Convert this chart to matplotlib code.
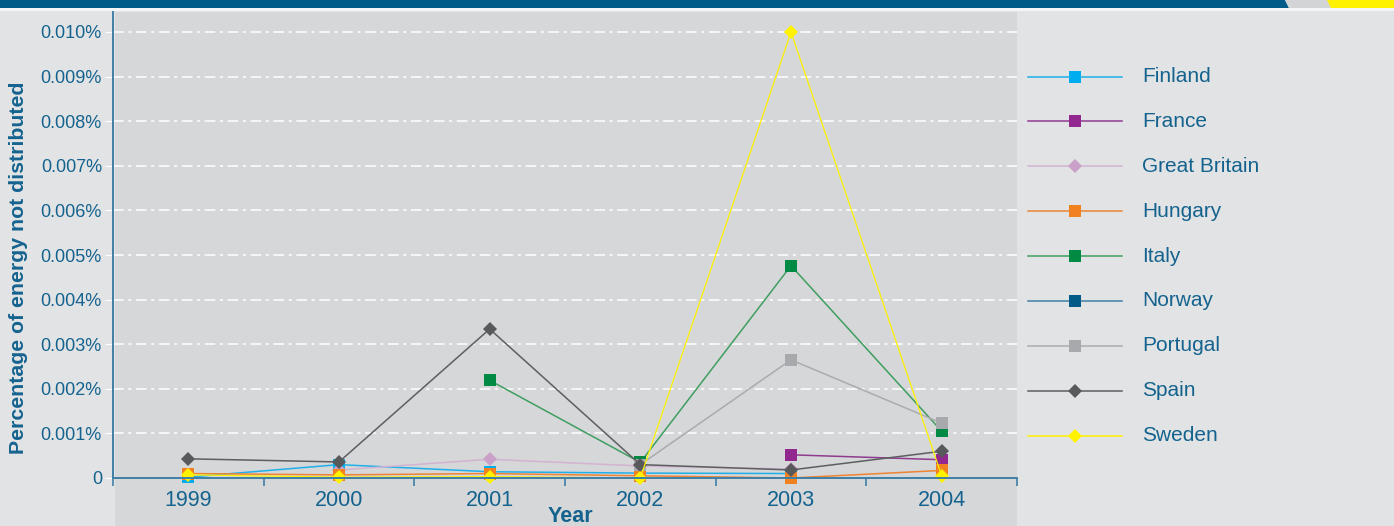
import matplotlib
matplotlib.use("Agg")
import matplotlib.pyplot as plt
from matplotlib.lines import Line2D
from matplotlib.patches import Rectangle, Polygon
import numpy as np

years = ["1999", "2000", "2001", "2002", "2003", "2004"]
countries = ["Finland", "France", "Great Britain", "Hungary", "Italy",
             "Norway", "Portugal", "Spain", "Sweden"]

# Percentage of energy not distributed (values in %)
finland = [0.00002, 0.00030, 0.00014, 0.00011, 0.00010, None]
france = [None, None, None, None, 0.00052, 0.00041]
great_britain = [None, 0.00018, 0.00042, 0.00027, 0.00020, None]
hungary = [0.00010, 0.00007, 0.00010, 0.00005, 0.00000, 0.00017]
italy = [None, None, 0.00219, 0.00035, 0.00476, 0.00105]
norway = [None, None, None, None, None, None]
portugal = [None, None, None, 0.00030, 0.00265, 0.00123]
spain = [0.00043, 0.00036, 0.00334, 0.00030, 0.00018, 0.00060]
sweden = [0.00007, 0.00002, 0.00003, 0.00000, 0.01000, 0.00005]

series = [finland, france, great_britain, hungary, italy,
          norway, portugal, spain, sweden]

line_colors = ["#1fb0ea", "#8f3b8f", "#d3b3d2", "#ee8434", "#3e9f60",
               "#3f7fa6", "#a9abae", "#5d5e60", "#fff200"]
marker_colors = ["#00aeef", "#92278f", "#c9a0c8", "#f1821f", "#008a44",
                 "#005a87", "#a7a9ac", "#58595b", "#fff200"]
markers = ["s", "s", "D", "s", "s", "s", "s", "D", "D"]

TEXT = "#14638e"
AXIS = "#3f7fa6"

W, H = 1394, 526
fig = plt.figure(figsize=(W / 100, H / 100), dpi=100)
fig.patch.set_facecolor("#e2e3e5")
plt.rcParams["font.family"] = ["Liberation Sans", "DejaVu Sans"]


def fx(px):
    return px / W


def fy(py):
    return 1 - py / H


# header band
fig.add_artist(Polygon([(0, fy(0)), (fx(1285), fy(0)), (fx(1289), fy(8)), (0, fy(8))],
                       closed=True, transform=fig.transFigure, color="#005b88", lw=0))
fig.add_artist(Polygon([(fx(1285), fy(0)), (fx(1327), fy(0)), (fx(1331), fy(8)), (fx(1289), fy(8))],
                       closed=True, transform=fig.transFigure, color="#d3d4d6", lw=0))
fig.add_artist(Polygon([(fx(1327), fy(0)), (1, fy(0)), (1, fy(8)), (fx(1331), fy(8))],
                       closed=True, transform=fig.transFigure, color="#fff200", lw=0))
fig.add_artist(Rectangle((0, fy(11)), 1, fy(8) - fy(11), transform=fig.transFigure,
                         color="#f4f5f6", lw=0))

# plot panel background
fig.add_artist(Rectangle((fx(115), 0), fx(1017) - fx(115), fy(12), transform=fig.transFigure,
                         color="#d6d7d9", lw=0, zorder=0))

unit = 0.001 / 44.6  # % per pixel
ax = fig.add_axes([fx(113), fy(478), fx(1017) - fx(113), fy(12) - fy(478)])
ax.set_facecolor("none")
ax.set_xlim(-0.5, 5.5)
ax.set_ylim(0, (478 - 12) * unit)

x = np.arange(len(years))
for vals, lc, mc, mk in zip(series, line_colors, marker_colors, markers):
    y = np.array([np.nan if v is None else v for v in vals], dtype=float)
    ms = 7.5 if mk == "D" else 8
    lw = 0.9 if lc == "#fff200" else 1.1
    ax.plot(x, y, color=lc, lw=lw, marker=mk, ms=ms, mfc=mc, mec=mc, mew=0,
            clip_on=False)

yt = [0.0, 0.001, 0.002, 0.003, 0.004, 0.005, 0.006, 0.007, 0.008, 0.009, 0.010]
ax.set_yticks(yt)
ax.set_yticklabels(["0"] + [f"{v:.3f}%" for v in yt[1:]], color=TEXT, fontsize=13)
for v in yt[1:]:
    ax.axhline(v, color="white", lw=1.1, ls=(0, (7, 3, 2, 3)), zorder=0.5)
ax.tick_params(axis="y", length=6, color="white", pad=2)

ax.set_xticks(x)
ax.set_xticklabels(years, color=TEXT, fontsize=15.5)
ax.set_xticks(np.arange(-0.5, 6.0, 1.0), minor=True)
ax.tick_params(axis="x", which="major", length=0, pad=9)
ax.tick_params(axis="x", which="minor", length=6, color=AXIS, width=1.2)

for side in ("top", "right"):
    ax.spines[side].set_visible(False)
for side in ("left", "bottom"):
    ax.spines[side].set_color(AXIS)
    ax.spines[side].set_linewidth(1.4)

fig.text(fx(19), fy(268), "Percentage of energy not distributed", rotation=90,
         ha="center", va="center", fontsize=15.3, fontweight="bold", color=TEXT)
fig.text(fx(570), fy(517), "Year", ha="center", va="center",
         fontsize=15.5, fontweight="bold", color=TEXT)

# legend
for i, (name, lc, mc, mk) in enumerate(zip(countries, line_colors, marker_colors, markers)):
    yy = fy(76.5 + 44.9 * i)
    ms = 7.5 if mk == "D" else 8
    fig.add_artist(Line2D([fx(1028), fx(1075), fx(1122)], [yy, yy, yy],
                          transform=fig.transFigure, color=lc, lw=1.1,
                          marker=mk, markevery=[1], ms=ms, mfc=mc, mec=mc, mew=0))
    fig.text(fx(1142), yy, name, ha="left", va="center", fontsize=15, color=TEXT)

fig.savefig("out.png", dpi=100, facecolor=fig.get_facecolor())
